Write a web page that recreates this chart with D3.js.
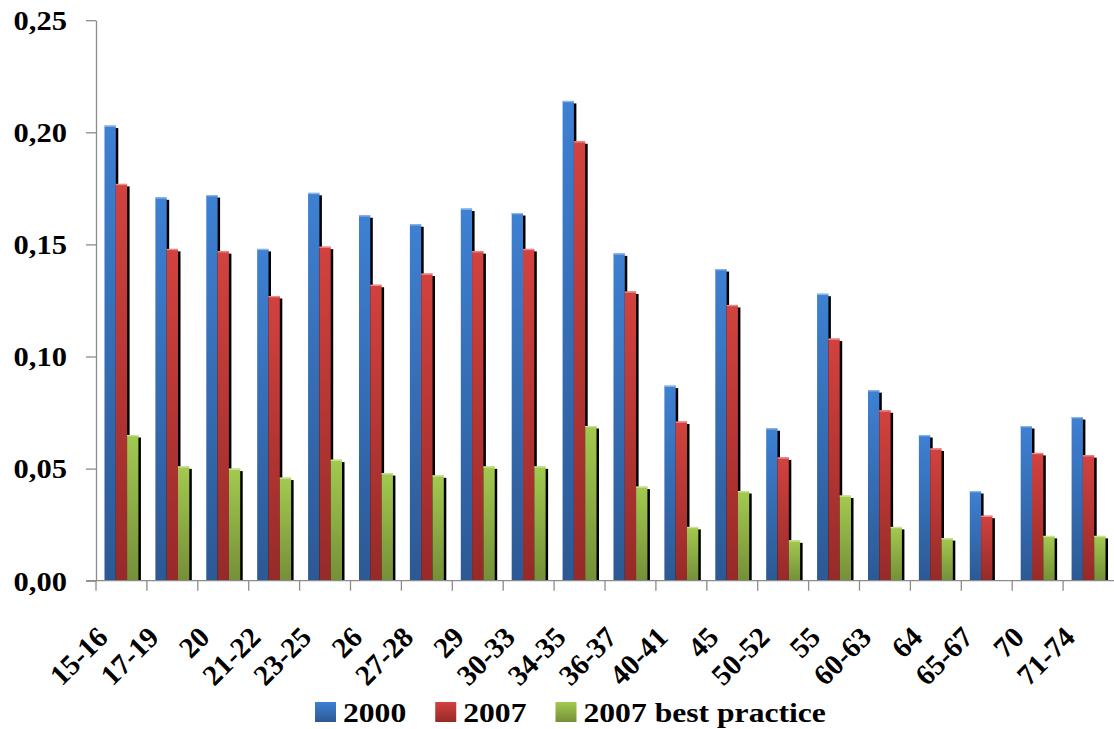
<!DOCTYPE html>
<meta charset="utf-8">
<script src="https://d3js.org/d3.v7.min.js"></script>
<style>
  body { margin: 0; background: #fff; }
  text { font-family: "Liberation Serif", "Times New Roman", serif; font-weight: bold; fill: #000; }
</style>
<div id="chart"></div>

<script>
  // data
  var categories = ["15-16", "17-19", "20", "21-22", "23-25", "26", "27-28", "29", "30-33", "34-35",
    "36-37", "40-41", "45", "50-52", "55", "60-63", "64", "65-67", "70", "71-74"];
  var seriesNames = ["2000", "2007", "2007 best practice"];
  var values2000 = [0.203, 0.171, 0.172, 0.148, 0.173, 0.163, 0.159, 0.166, 0.164, 0.214,
    0.146, 0.087, 0.139, 0.068, 0.128, 0.085, 0.065, 0.040, 0.069, 0.073];
  var values2007 = [0.177, 0.148, 0.147, 0.127, 0.149, 0.132, 0.137, 0.147, 0.148, 0.196,
    0.129, 0.071, 0.123, 0.055, 0.108, 0.076, 0.059, 0.029, 0.057, 0.056];
  var valuesBest = [0.065, 0.051, 0.050, 0.046, 0.054, 0.048, 0.047, 0.051, 0.051, 0.069,
    0.042, 0.024, 0.040, 0.018, 0.038, 0.024, 0.019, 0, 0.020, 0.020];
  var yTicks = [0, 0.05, 0.10, 0.15, 0.20, 0.25];

  var w = 1114, h = 729;
  var plotLeft = 96, plotRight = 1114, plotTop = 20.2, plotBottom = 580.7;
  var sx = 1.13; // the text in the picture is a bit wide

  var svg = d3.select("#chart").append("svg")
    .attr("width", w)
    .attr("height", h);

  // gradients for the three series (light top, dark bottom)
  var grads = [["#3e80d3", "#2c5994"], ["#d2423e", "#962a28"], ["#a2ca50", "#758f38"]];
  var defs = svg.append("defs");
  grads.forEach(function (g, i) {
    var lg = defs.append("linearGradient").attr("id", "g" + i)
      .attr("x1", 0).attr("y1", 0).attr("x2", 0).attr("y2", 1);
    lg.append("stop").attr("offset", "0%").attr("stop-color", g[0]);
    lg.append("stop").attr("offset", "100%").attr("stop-color", g[1]);
  });
  var highlight = ["#8fb4e6", "#e88c89", "#c9e39a"];
  defs.append("clipPath").attr("id", "plotclip")
    .append("rect").attr("x", 0).attr("y", 0).attr("width", w).attr("height", plotBottom);

  var x = d3.scaleBand().domain(categories).range([plotLeft, plotRight]);
  var xs = d3.scaleBand().domain(seriesNames).range([0, x.bandwidth()])
    .paddingInner(0).paddingOuter(0.75);
  var y = d3.scaleLinear().domain([0, 0.25]).range([plotBottom, plotTop]);

  var rows = categories.map(function (c, i) {
    return { cat: c, vals: [values2000[i], values2007[i], valuesBest[i]] };
  });

  // bars, each with a black drop shadow to the right
  var plot = svg.append("g").attr("clip-path", "url(#plotclip)");
  var groups = plot.selectAll("g.cat")
    .data(rows)
    .enter()
    .append("g")
    .attr("class", "cat")
    .attr("transform", function (d) { return "translate(" + x(d.cat) + ",0)"; });

  seriesNames.forEach(function (s, k) {
    groups.filter(function (d) { return d.vals[k] > 0; }).each(function (d) {
      var g = d3.select(this);
      var bx = xs(s), by = y(d.vals[k]), bw = xs.bandwidth(), bh = plotBottom - by;
      g.append("rect")
        .attr("x", bx + 2.5).attr("y", by + 2.5)
        .attr("width", bw).attr("height", bh)
        .attr("fill", "#000");
      g.append("rect")
        .attr("x", bx).attr("y", by)
        .attr("width", bw).attr("height", bh)
        .attr("fill", "url(#g" + k + ")");
      g.append("rect")
        .attr("x", bx).attr("y", by)
        .attr("width", bw).attr("height", 1.3)
        .attr("fill", highlight[k]);
    });
  });

  // y axis
  var yAxis = svg.append("g")
    .attr("transform", "translate(" + plotLeft + ",0)")
    .call(d3.axisLeft(y).tickValues(yTicks).tickSize(10).tickSizeOuter(0)
      .tickFormat(function (d) { return d3.format(".2f")(d).replace(".", ","); }));
  yAxis.select(".domain").attr("stroke", "#8c8c8c").attr("stroke-width", 1.3);
  yAxis.selectAll(".tick line").attr("stroke", "#8c8c8c").attr("stroke-width", 1.3);
  yAxis.selectAll(".tick text")
    .attr("x", null).attr("dy", null)
    .attr("transform", "translate(-29,0) scale(" + sx + ",1)")
    .attr("dominant-baseline", "central")
    .attr("font-size", 27)
    .attr("font-family", null);

  // x axis: line plus ticks at the category boundaries
  var xAxis = svg.append("g");
  xAxis.append("line")
    .attr("x1", plotLeft - 10).attr("x2", plotRight)
    .attr("y1", plotBottom).attr("y2", plotBottom)
    .attr("stroke", "#8c8c8c").attr("stroke-width", 1.3);
  xAxis.selectAll("line.tick")
    .data(categories)
    .enter()
    .append("line")
    .attr("class", "tick")
    .attr("x1", function (d) { return x(d); })
    .attr("x2", function (d) { return x(d); })
    .attr("y1", plotBottom).attr("y2", plotBottom + 10)
    .attr("stroke", "#8c8c8c").attr("stroke-width", 1.3);

  xAxis.selectAll("text")
    .data(categories)
    .enter()
    .append("text")
    .text(function (d) { return d; })
    .attr("text-anchor", "end")
    .attr("dominant-baseline", "central")
    .attr("font-size", 29)
    .attr("transform", function (d) {
      return "translate(" + (x(d) + x.bandwidth() / 2 - 19) + "," + 632 + ") rotate(-45)";
    });

  // legend
  var legend = svg.append("g");
  var lx = 315;
  seriesNames.forEach(function (s, k) {
    legend.append("rect")
      .attr("x", lx).attr("y", 702)
      .attr("width", 21).attr("height", 20)
      .attr("fill", "url(#g" + k + ")");
    var t = legend.append("text")
      .text(s)
      .attr("font-size", 28)
      .attr("transform", "translate(" + (lx + 28) + ",722) scale(" + sx + ",1)");
    lx = lx + 28 + t.node().getComputedTextLength() * sx + 29;
  });
</script>
